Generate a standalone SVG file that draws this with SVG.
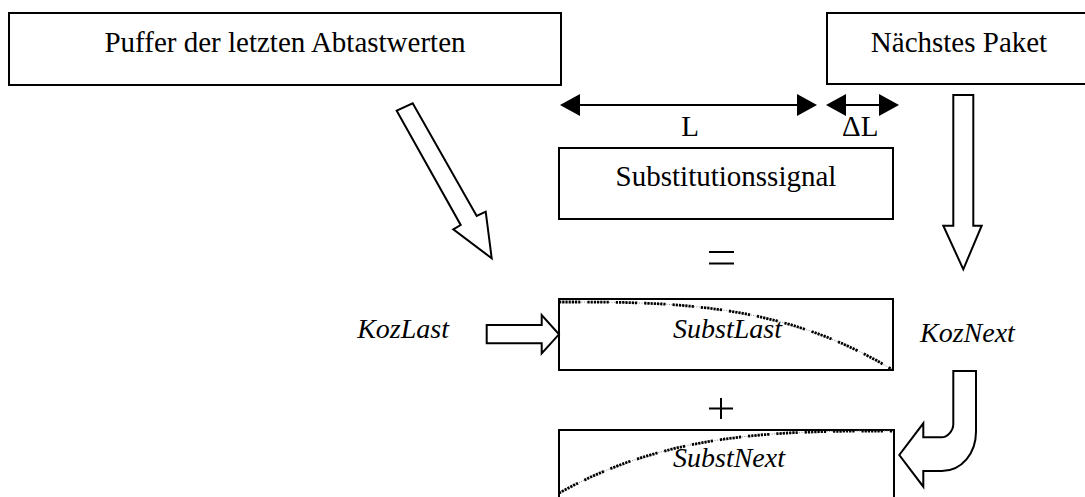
<svg xmlns="http://www.w3.org/2000/svg" width="1085" height="497" viewBox="0 0 1085 497">
  <style>
    .box { fill: #fff; stroke: #000; stroke-width: 2; }
    .lbl { font-family: "Liberation Serif", "Times New Roman", serif; font-size: 29px; fill: #000; }
    .it { font-family: "Liberation Serif", "Times New Roman", serif; font-style: italic; font-size: 28px; fill: #000; }
    .block { fill: #fff; stroke: #000; stroke-width: 2; stroke-linejoin: miter; }
    .dim { stroke: #000; stroke-width: 2; fill: none; }
    .sym { stroke: #000; stroke-width: 2; fill: none; }
    .wgrey { fill: none; stroke: #8a8a8a; stroke-width: 1; stroke-dasharray: 1 1.5; }
    .wdots { fill: none; stroke: #000; stroke-width: 2.8; stroke-dasharray: 2.2 1 2.2 1 2.2 1 2.2 1 2.2 1 2.2 1 2.2 7; }
  </style>
  <defs>
    <marker id="head" viewBox="0 0 20 22" refX="10" refY="11" markerWidth="20" markerHeight="22" markerUnits="userSpaceOnUse" orient="auto-start-reverse">
      <path d="M0,0 L20,11 L0,22 Z" fill="#000"/>
    </marker>
  </defs>

  <rect width="1085" height="497" fill="#fff"/>

  <!-- sample buffer -->
  <g id="puffer">
    <rect class="box" x="9" y="13" width="552" height="72"/>
    <text class="lbl" x="285" y="52" text-anchor="middle">Puffer der letzten Abtastwerten</text>
  </g>

  <!-- next packet (runs off the right edge) -->
  <g id="paket">
    <rect class="box" x="827" y="13" width="270" height="71"/>
    <text class="lbl" x="959" y="52" text-anchor="middle">Nächstes Paket</text>
  </g>

  <!-- substitution signal -->
  <g id="subst">
    <rect class="box" x="559" y="148" width="334" height="71"/>
    <text class="lbl" x="726" y="186" text-anchor="middle">Substitutionssignal</text>
  </g>

  <!-- faded-out last samples -->
  <g id="substlast">
    <rect class="box" x="559" y="299" width="334" height="71"/>
    <polyline class="wgrey" points="559,302 575.7,302 592.4,302.1 609.1,302.2 625.8,302.5 642.5,303.1 659.2,303.8 675.9,304.9 692.6,306.4 709.3,308.2 726,310.5 742.7,313.3 759.4,316.7 776.1,320.7 792.8,325.3 809.5,330.7 826.2,336.8 842.9,343.8 859.6,351.6 876.3,360.3 893,370"/>
    <polyline class="wdots" points="559,302 575.7,302 592.4,302.1 609.1,302.2 625.8,302.5 642.5,303.1 659.2,303.8 675.9,304.9 692.6,306.4 709.3,308.2 726,310.5 742.7,313.3 759.4,316.7 776.1,320.7 792.8,325.3 809.5,330.7 826.2,336.8 842.9,343.8 859.6,351.6 876.3,360.3 893,370"/>
    <text class="it" x="673" y="338">SubstLast</text>
  </g>

  <!-- faded-in next samples -->
  <g id="substnext">
    <rect class="box" x="559" y="430" width="335" height="80"/>
    <polyline class="wgrey" points="559,493 575.8,484.2 592.5,476.2 609.3,469.1 626,462.7 642.8,457.2 659.5,452.3 676.3,448 693,444.4 709.8,441.3 726.5,438.8 743.3,436.7 760,435 776.8,433.7 793.5,432.7 810.3,432 827,431.5 843.8,431.2 860.5,431.1 893,431"/>
    <polyline class="wdots" points="559,493 575.8,484.2 592.5,476.2 609.3,469.1 626,462.7 642.8,457.2 659.5,452.3 676.3,448 693,444.4 709.8,441.3 726.5,438.8 743.3,436.7 760,435 776.8,433.7 793.5,432.7 810.3,432 827,431.5 843.8,431.2 860.5,431.1 893,431"/>
    <text class="it" x="673" y="467">SubstNext</text>
  </g>

  <!-- weight labels -->
  <g id="kozlast">
    <text class="it" x="449" y="338" text-anchor="end">KozLast</text>
  </g>
  <g id="koznext">
    <text class="it" x="920" y="342">KozNext</text>
  </g>

  <!-- operators -->
  <g id="ops">
    <path class="sym" d="M709,252 H734 M709,263.5 H734"/>
    <path class="sym" d="M709,408.5 H733 M721,398 V419"/>
  </g>

  <g id="connectors">
    <!-- length markers -->
    <line class="dim" x1="570" y1="105" x2="807" y2="105" marker-start="url(#head)" marker-end="url(#head)"/>
    <line class="dim" x1="836" y1="105" x2="889" y2="105" marker-start="url(#head)" marker-end="url(#head)"/>
    <text class="lbl" x="690" y="136" text-anchor="middle" font-size="28">L</text>
    <text class="lbl" x="842" y="136" font-size="27">ΔL</text>

    <!-- block arrows -->
    <polygon class="block" points="396.7,110.7 412.7,103.3 476.7,216 485.7,211.7 491.7,258.3 453.3,229.3 460.7,225"/>
    <polygon class="block" points="953.3,95 973.3,95 973.3,225.7 981.7,225.7 963.3,269.3 943.3,225.7 953.3,225.7"/>
    <polygon class="block" points="486.7,325 541.7,325 541.7,315 559,334.3 541.7,353.3 541.7,343.3 486.7,343.3"/>
    <path class="block" d="M953.3,371 H976 V431.7 C976,453 962,471 941.7,471 H923.3 V486.7 L899.3,455 L923.3,423.3 V437.3 H941.7 C947,437.3 953.3,431 953.3,424.3 Z"/>
  </g>
</svg>
